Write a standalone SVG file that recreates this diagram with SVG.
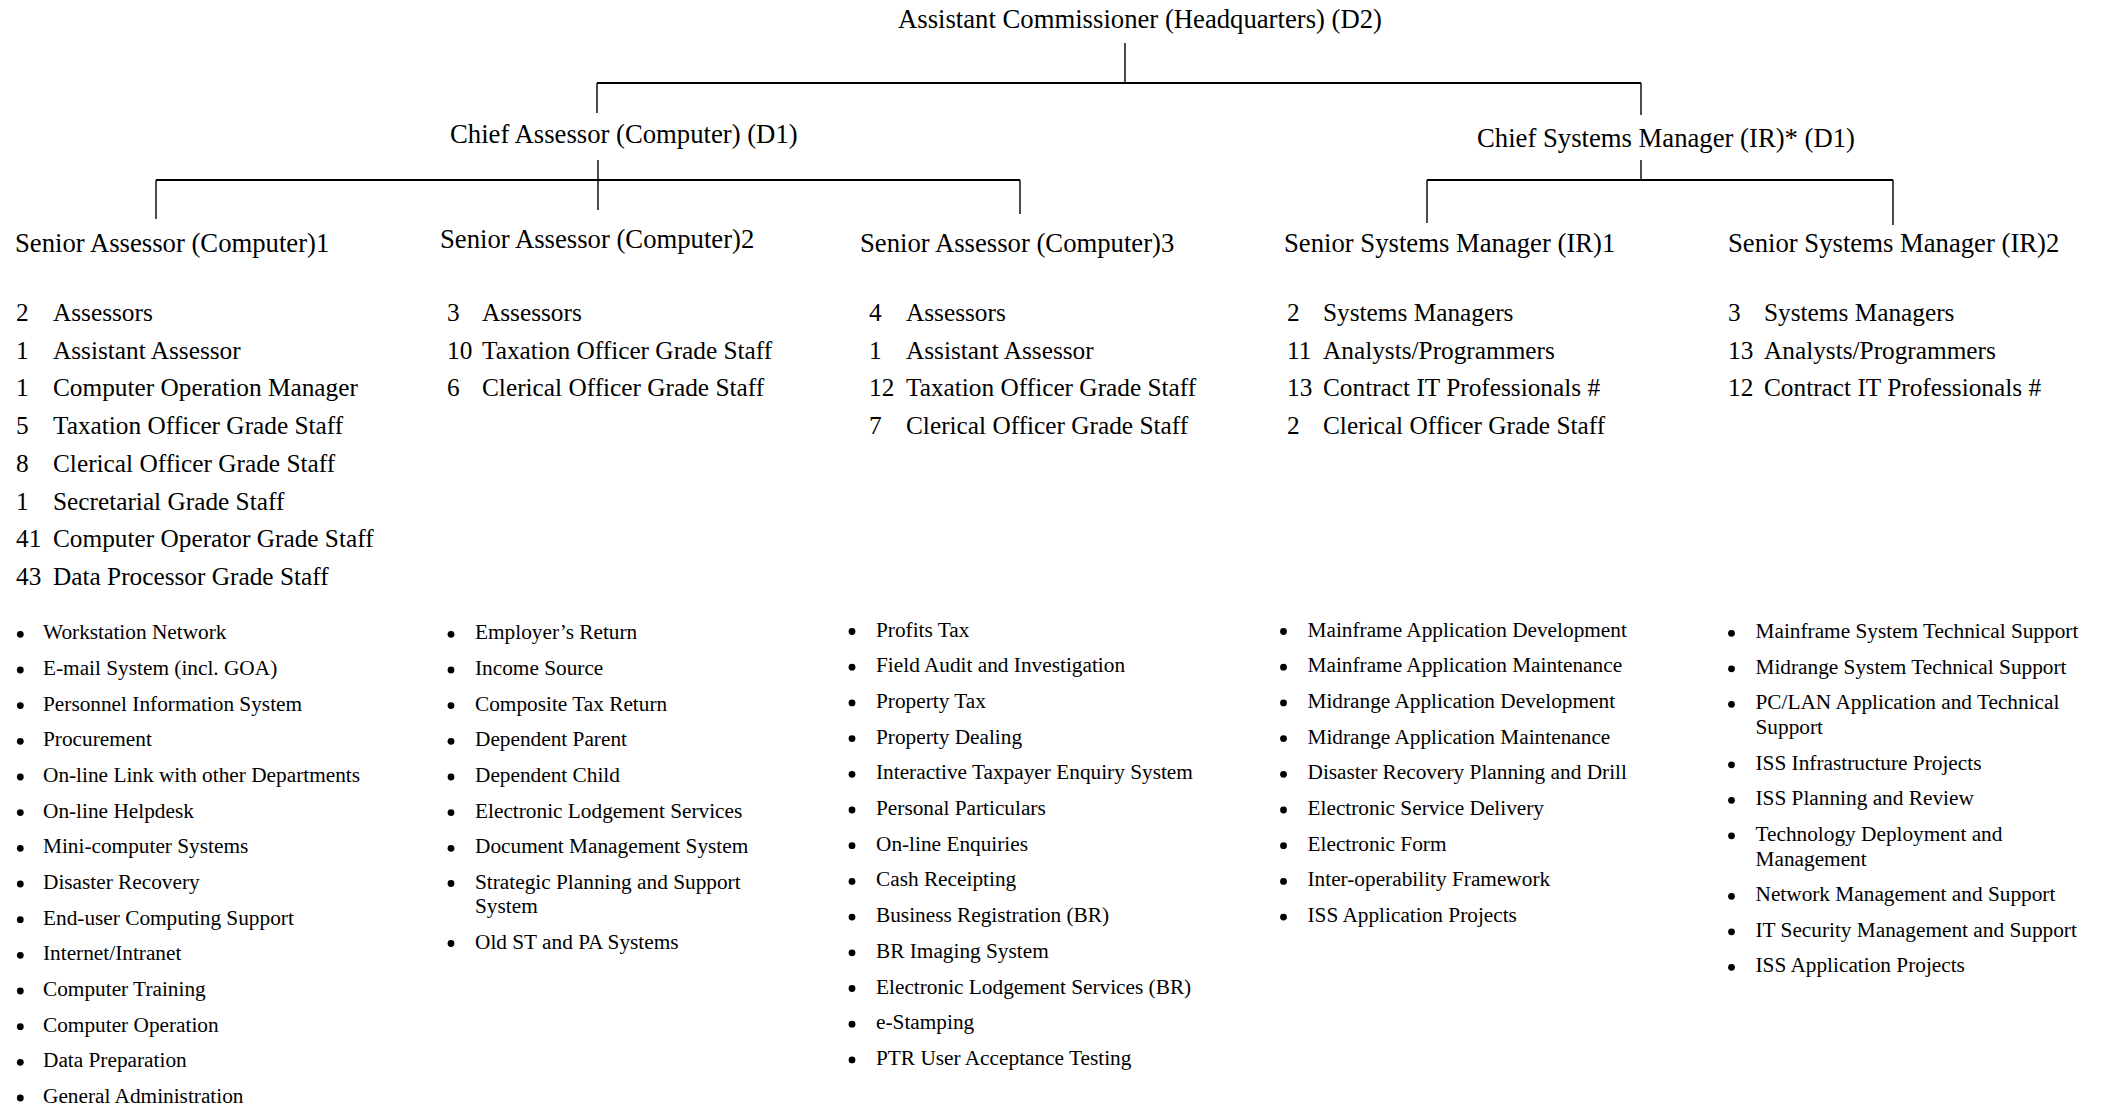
<svg xmlns="http://www.w3.org/2000/svg" width="2107" height="1107" viewBox="0 0 2107 1107">
<style>
text{font-family:"Liberation Serif","Times New Roman",serif;fill:#000}
.h{font-size:26.7px}
.s{font-size:25.3px}
.b{font-size:21.3px}
.c{stroke:#000;fill:none}
.hz{stroke-width:2}
.vt{stroke-width:1.4}
circle{fill:#000}
</style>
<defs><circle id="dot" r="3.4"/></defs>
<rect width="2107" height="1107" fill="#fff"/>
<g id="connectors">
<path class="c vt" d="M1125,43V83"/>
<path class="c hz" d="M597,83H1641"/>
<path class="c vt" d="M597,83V113M1641,83V115"/>
<path class="c vt" d="M598,160V210"/>
<path class="c hz" d="M156,180H1020"/>
<path class="c vt" d="M156,180V219M1020,180V214"/>
<path class="c vt" d="M1641,160V180"/>
<path class="c hz" d="M1427,180H1893"/>
<path class="c vt" d="M1427,180V223M1893,180V225"/>
</g>
<g id="node-ac"><text class="h" x="898" y="28">Assistant Commissioner (Headquarters) (D2)</text></g>
<g id="node-ca"><text class="h" x="450" y="142.5">Chief Assessor (Computer) (D1)</text></g>
<g id="node-csm"><text class="h" x="1477" y="147">Chief Systems Manager (IR)* (D1)</text></g>
<g id="node-sa1">
<text class="h" x="15" y="251.5">Senior Assessor (Computer)1</text>
<text class="s" x="16" y="321">2</text><text class="s" x="53" y="321">Assessors</text>
<text class="s" x="16" y="358.7">1</text><text class="s" x="53" y="358.7">Assistant Assessor</text>
<text class="s" x="16" y="396.4">1</text><text class="s" x="53" y="396.4">Computer Operation Manager</text>
<text class="s" x="16" y="434.1">5</text><text class="s" x="53" y="434.1">Taxation Officer Grade Staff</text>
<text class="s" x="16" y="471.8">8</text><text class="s" x="53" y="471.8">Clerical Officer Grade Staff</text>
<text class="s" x="16" y="509.5">1</text><text class="s" x="53" y="509.5">Secretarial Grade Staff</text>
<text class="s" x="16" y="547.2">41</text><text class="s" x="53" y="547.2">Computer Operator Grade Staff</text>
<text class="s" x="16" y="584.9">43</text><text class="s" x="53" y="584.9">Data Processor Grade Staff</text>
<use href="#dot" x="20.3" y="634.3"/><text class="b" x="43" y="639.3">Workstation Network</text>
<use href="#dot" x="20.3" y="670"/><text class="b" x="43" y="675">E-mail System (incl. GOA)</text>
<use href="#dot" x="20.3" y="705.6"/><text class="b" x="43" y="710.6">Personnel Information System</text>
<use href="#dot" x="20.3" y="741.3"/><text class="b" x="43" y="746.3">Procurement</text>
<use href="#dot" x="20.3" y="777"/><text class="b" x="43" y="782">On-line Link with other Departments</text>
<use href="#dot" x="20.3" y="812.6"/><text class="b" x="43" y="817.6">On-line Helpdesk</text>
<use href="#dot" x="20.3" y="848.3"/><text class="b" x="43" y="853.3">Mini-computer Systems</text>
<use href="#dot" x="20.3" y="884"/><text class="b" x="43" y="889">Disaster Recovery</text>
<use href="#dot" x="20.3" y="919.7"/><text class="b" x="43" y="924.7">End-user Computing Support</text>
<use href="#dot" x="20.3" y="955.3"/><text class="b" x="43" y="960.3">Internet/Intranet</text>
<use href="#dot" x="20.3" y="991"/><text class="b" x="43" y="996">Computer Training</text>
<use href="#dot" x="20.3" y="1026.7"/><text class="b" x="43" y="1031.7">Computer Operation</text>
<use href="#dot" x="20.3" y="1062.3"/><text class="b" x="43" y="1067.3">Data Preparation</text>
<use href="#dot" x="20.3" y="1098"/><text class="b" x="43" y="1103">General Administration</text>
</g>
<g id="node-sa2">
<text class="h" x="440" y="248">Senior Assessor (Computer)2</text>
<text class="s" x="447" y="321">3</text><text class="s" x="482" y="321">Assessors</text>
<text class="s" x="447" y="358.7">10</text><text class="s" x="482" y="358.7">Taxation Officer Grade Staff</text>
<text class="s" x="447" y="396.4">6</text><text class="s" x="482" y="396.4">Clerical Officer Grade Staff</text>
<use href="#dot" x="451" y="634.3"/><text class="b" x="475" y="639.3">Employer’s Return</text>
<use href="#dot" x="451" y="670"/><text class="b" x="475" y="675">Income Source</text>
<use href="#dot" x="451" y="705.6"/><text class="b" x="475" y="710.6">Composite Tax Return</text>
<use href="#dot" x="451" y="741.3"/><text class="b" x="475" y="746.3">Dependent Parent</text>
<use href="#dot" x="451" y="777"/><text class="b" x="475" y="782">Dependent Child</text>
<use href="#dot" x="451" y="812.6"/><text class="b" x="475" y="817.6">Electronic Lodgement Services</text>
<use href="#dot" x="451" y="848.3"/><text class="b" x="475" y="853.3">Document Management System</text>
<use href="#dot" x="451" y="883.5"/><text class="b" x="475" y="888.5">Strategic Planning and Support</text>
<text class="b" x="475" y="913">System</text>
<use href="#dot" x="451" y="943.5"/><text class="b" x="475" y="948.5">Old ST and PA Systems</text>
</g>
<g id="node-sa3">
<text class="h" x="860" y="251.5">Senior Assessor (Computer)3</text>
<text class="s" x="869" y="321">4</text><text class="s" x="906" y="321">Assessors</text>
<text class="s" x="869" y="358.7">1</text><text class="s" x="906" y="358.7">Assistant Assessor</text>
<text class="s" x="869" y="396.4">12</text><text class="s" x="906" y="396.4">Taxation Officer Grade Staff</text>
<text class="s" x="869" y="434.1">7</text><text class="s" x="906" y="434.1">Clerical Officer Grade Staff</text>
<use href="#dot" x="852" y="631.5"/><text class="b" x="876" y="636.5">Profits Tax</text>
<use href="#dot" x="852" y="667.2"/><text class="b" x="876" y="672.2">Field Audit and Investigation</text>
<use href="#dot" x="852" y="702.9"/><text class="b" x="876" y="707.9">Property Tax</text>
<use href="#dot" x="852" y="738.6"/><text class="b" x="876" y="743.6">Property Dealing</text>
<use href="#dot" x="852" y="774.3"/><text class="b" x="876" y="779.3">Interactive Taxpayer Enquiry System</text>
<use href="#dot" x="852" y="810"/><text class="b" x="876" y="815">Personal Particulars</text>
<use href="#dot" x="852" y="845.7"/><text class="b" x="876" y="850.7">On-line Enquiries</text>
<use href="#dot" x="852" y="881.4"/><text class="b" x="876" y="886.4">Cash Receipting</text>
<use href="#dot" x="852" y="917.1"/><text class="b" x="876" y="922.1">Business Registration (BR)</text>
<use href="#dot" x="852" y="952.8"/><text class="b" x="876" y="957.8">BR Imaging System</text>
<use href="#dot" x="852" y="988.5"/><text class="b" x="876" y="993.5">Electronic Lodgement Services (BR)</text>
<use href="#dot" x="852" y="1024.2"/><text class="b" x="876" y="1029.2">e-Stamping</text>
<use href="#dot" x="852" y="1059.9"/><text class="b" x="876" y="1064.9">PTR User Acceptance Testing</text>
</g>
<g id="node-ssm1">
<text class="h" x="1284" y="251.5">Senior Systems Manager (IR)1</text>
<text class="s" x="1287" y="321">2</text><text class="s" x="1323" y="321">Systems Managers</text>
<text class="s" x="1287" y="358.7">11</text><text class="s" x="1323" y="358.7">Analysts/Programmers</text>
<text class="s" x="1287" y="396.4">13</text><text class="s" x="1323" y="396.4">Contract IT Professionals #</text>
<text class="s" x="1287" y="434.1">2</text><text class="s" x="1323" y="434.1">Clerical Officer Grade Staff</text>
<use href="#dot" x="1283.5" y="631.5"/><text class="b" x="1307.5" y="636.5">Mainframe Application Development</text>
<use href="#dot" x="1283.5" y="667.2"/><text class="b" x="1307.5" y="672.2">Mainframe Application Maintenance</text>
<use href="#dot" x="1283.5" y="702.9"/><text class="b" x="1307.5" y="707.9">Midrange Application Development</text>
<use href="#dot" x="1283.5" y="738.6"/><text class="b" x="1307.5" y="743.6">Midrange Application Maintenance</text>
<use href="#dot" x="1283.5" y="774.3"/><text class="b" x="1307.5" y="779.3">Disaster Recovery Planning and Drill</text>
<use href="#dot" x="1283.5" y="810"/><text class="b" x="1307.5" y="815">Electronic Service Delivery</text>
<use href="#dot" x="1283.5" y="845.7"/><text class="b" x="1307.5" y="850.7">Electronic Form</text>
<use href="#dot" x="1283.5" y="881.4"/><text class="b" x="1307.5" y="886.4">Inter-operability Framework</text>
<use href="#dot" x="1283.5" y="917.1"/><text class="b" x="1307.5" y="922.1">ISS Application Projects</text>
</g>
<g id="node-ssm2">
<text class="h" x="1728" y="251.5">Senior Systems Manager (IR)2</text>
<text class="s" x="1728" y="321">3</text><text class="s" x="1764" y="321">Systems Managers</text>
<text class="s" x="1728" y="358.7">13</text><text class="s" x="1764" y="358.7">Analysts/Programmers</text>
<text class="s" x="1728" y="396.4">12</text><text class="s" x="1764" y="396.4">Contract IT Professionals #</text>
<use href="#dot" x="1731.5" y="633.3"/><text class="b" x="1755.5" y="638.3">Mainframe System Technical Support</text>
<use href="#dot" x="1731.5" y="668.8"/><text class="b" x="1755.5" y="673.8">Midrange System Technical Support</text>
<use href="#dot" x="1731.5" y="704.3"/><text class="b" x="1755.5" y="709.3">PC/LAN Application and Technical</text>
<text class="b" x="1755.5" y="734.3">Support</text>
<use href="#dot" x="1731.5" y="764.8"/><text class="b" x="1755.5" y="769.8">ISS Infrastructure Projects</text>
<use href="#dot" x="1731.5" y="800.3"/><text class="b" x="1755.5" y="805.3">ISS Planning and Review</text>
<use href="#dot" x="1731.5" y="835.8"/><text class="b" x="1755.5" y="840.8">Technology Deployment and</text>
<text class="b" x="1755.5" y="865.8">Management</text>
<use href="#dot" x="1731.5" y="896.3"/><text class="b" x="1755.5" y="901.3">Network Management and Support</text>
<use href="#dot" x="1731.5" y="931.8"/><text class="b" x="1755.5" y="936.8">IT Security Management and Support</text>
<use href="#dot" x="1731.5" y="967.3"/><text class="b" x="1755.5" y="972.3">ISS Application Projects</text>
</g>
</svg>
